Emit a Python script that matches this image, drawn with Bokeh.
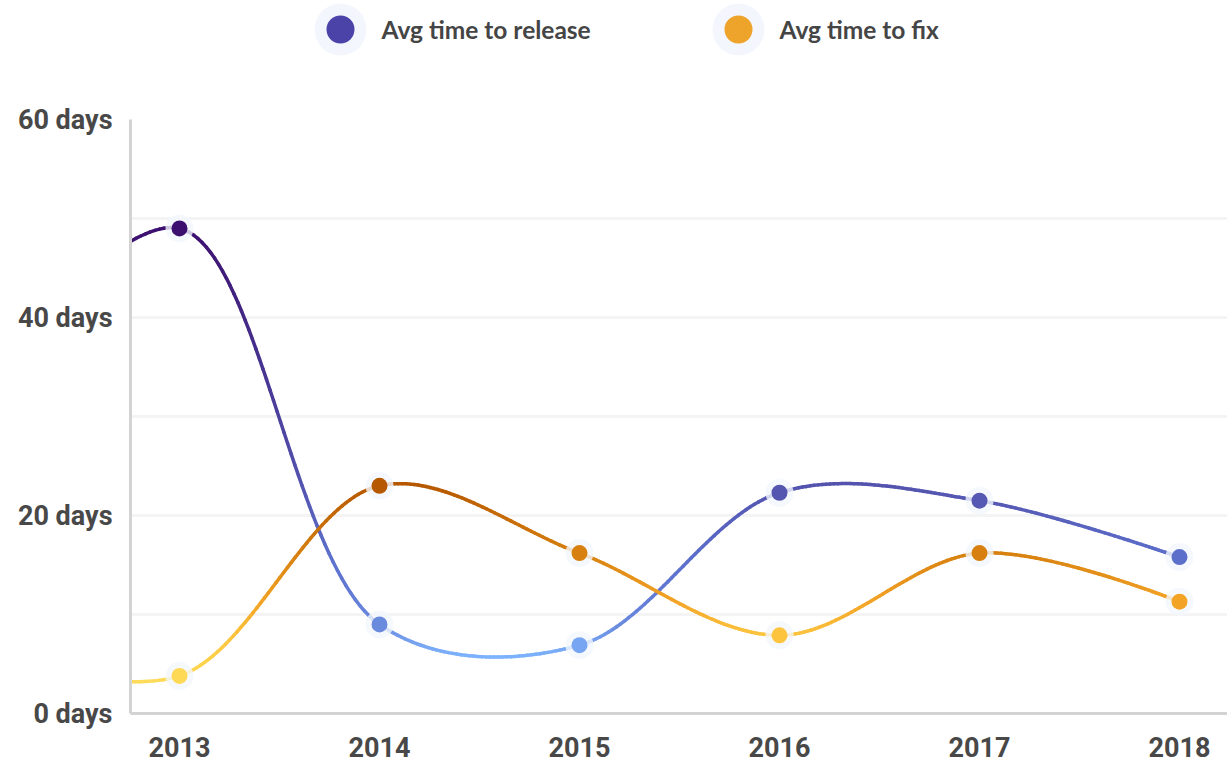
import math
from bokeh.plotting import figure
from bokeh.layouts import column
from bokeh.models import Range1d, FixedTicker
from bokeh.core.properties import value
from bokeh.embed import file_html
from bokeh.resources import INLINE

# ---------------- data ----------------
years = [2012, 2013, 2014, 2015, 2016, 2017, 2018]
tick_years = [2013, 2014, 2015, 2016, 2017, 2018]
release_days = [34.0, 49.0, 9.0, 6.9, 22.3, 21.5, 15.8]
fix_days = [6.0, 3.8, 23.0, 16.2, 7.9, 16.2, 11.3]
y_ticks = [0, 20, 40, 60]
y_tick_labels = ["0 days", "20 days", "40 days", "60 days"]
grid_ticks = [10, 20, 30, 40, 50]
series_names = ["Avg time to release", "Avg time to fix"]
legend_colors = ["#4c43a8", "#eea42b"]

release_stops = [(5.5, "#7db5ff"), (7.0, "#77a4f1"), (9.0, "#6a8ade"), (13.0, "#6077d2"),
                 (16.0, "#5c6fcb"), (22.0, "#5557b1"), (30.0, "#4c409d"), (40.0, "#432784"),
                 (49.5, "#3d0f6e")]
fix_stops = [(3.0, "#fedc5c"), (5.0, "#fdd44e"), (8.0, "#fcc33e"), (11.3, "#f3a427"),
             (16.2, "#d7800f"), (23.0, "#b65800")]

# ---------------- helpers ----------------
XPX = 200.0   # px per year (approx, for spline shape)
YPX = 9.9     # px per day


def hex2rgb(h):
    h = h.lstrip("#")
    return tuple(int(h[i:i + 2], 16) for i in (0, 2, 4))


def interp_color(v, stops):
    if v <= stops[0][0]:
        return stops[0][1]
    if v >= stops[-1][0]:
        return stops[-1][1]
    for (v0, c0), (v1, c1) in zip(stops[:-1], stops[1:]):
        if v0 <= v <= v1:
            t = (v - v0) / (v1 - v0)
            a, b = hex2rgb(c0), hex2rgb(c1)
            r = [round(a[k] + (b[k] - a[k]) * t) for k in range(3)]
            return "#%02x%02x%02x" % tuple(r)
    return stops[-1][1]


def catmull_rom(xs, ys, n=50):
    pts = [((x - years[0]) * XPX, y * YPX) for x, y in zip(xs, ys)]
    N = len(pts)
    ox, oy = [], []
    eps = 1e-9
    for i in range(N - 1):
        p0 = pts[i - 1] if i > 0 else pts[i]
        p1 = pts[i]
        p2 = pts[i + 1]
        p3 = pts[i + 2] if i + 2 < N else pts[i + 1]
        d01 = math.dist(p0, p1)
        d12 = math.dist(p1, p2)
        d23 = math.dist(p2, p3)
        l01a, l12a, l23a = d01 ** 0.5, d12 ** 0.5, d23 ** 0.5
        c1 = p1
        if l01a > eps:
            a = 2 * d01 + 3 * l01a * l12a + d12
            nn = 3 * l01a * (l01a + l12a)
            c1 = ((p1[0] * a - p0[0] * d12 + p2[0] * d01) / nn,
                  (p1[1] * a - p0[1] * d12 + p2[1] * d01) / nn)
        c2 = p2
        if l23a > eps:
            b = 2 * d23 + 3 * l23a * l12a + d12
            m = 3 * l23a * (l23a + l12a)
            c2 = ((p2[0] * b + p1[0] * d23 - p3[0] * d12) / m,
                  (p2[1] * b + p1[1] * d23 - p3[1] * d12) / m)
        for k in range(n + (1 if i == N - 2 else 0)):
            t = k / n
            u = 1 - t
            bx = u ** 3 * p1[0] + 3 * u * u * t * c1[0] + 3 * u * t * t * c2[0] + t ** 3 * p2[0]
            by = u ** 3 * p1[1] + 3 * u * u * t * c1[1] + 3 * u * t * t * c2[1] + t ** 3 * p2[1]
            ox.append(bx / XPX + years[0])
            oy.append(by / YPX)
    return ox, oy


W = 1227
LEFT = 130

# ---------------- legend strip ----------------
LH = 88
leg = figure(width=W, height=LH, x_range=Range1d(LEFT, W), y_range=Range1d(0, LH),
             toolbar_location=None, output_backend="svg",
             min_border_left=LEFT, min_border_right=0, min_border_top=0, min_border_bottom=0)
leg.axis.visible = False
leg.grid.visible = False
leg.outline_line_color = None
leg_x = [340, 738]
leg.scatter(leg_x, [59, 59], size=52, fill_color="#f3f6fd", line_color=None)
leg.scatter(leg_x, [59, 59], size=28, fill_color=legend_colors, line_color=None)
leg.text([x + 41 for x in leg_x], [59, 59], text=series_names, text_font=value("Lato"),
         text_font_style="bold", text_font_size="24.5px", text_color="#454545",
         text_baseline="middle", text_align="left")

# ---------------- main chart ----------------
x_start = 2013 - 49.0 / XPX
x_end = x_start + (W - LEFT) / XPX
p = figure(width=W, height=768 - LH, x_range=Range1d(x_start, x_end), y_range=Range1d(0, 60),
           toolbar_location=None, output_backend="svg",
           min_border_left=LEFT, min_border_right=0, min_border_top=31, min_border_bottom=55)
p.outline_line_color = None
p.xgrid.visible = False
p.ygrid.ticker = FixedTicker(ticks=grid_ticks)
p.ygrid.grid_line_color = "#f4f4f4"
p.ygrid.grid_line_width = 3

for ax in (p.xaxis[0], p.yaxis[0]):
    ax.axis_line_color = "#d3d3d3"
    ax.axis_line_width = 3
    ax.major_tick_line_color = None
    ax.minor_tick_line_color = None
    ax.major_tick_out = 0
    ax.major_tick_in = 0
    ax.major_label_text_font = "Roboto"
    ax.major_label_text_font_style = "bold"
    ax.major_label_text_font_size = "27px"
    ax.major_label_text_color = "#484848"

p.yaxis[0].ticker = FixedTicker(ticks=y_ticks)
p.yaxis[0].major_label_overrides = {t: s for t, s in zip(y_ticks, y_tick_labels)}
p.yaxis[0].major_label_standoff = 18
p.xaxis[0].ticker = FixedTicker(ticks=tick_years)
p.xaxis[0].major_label_overrides = {t: str(t) for t in tick_years}
p.xaxis[0].major_label_standoff = 23

for vals, stops in ((release_days, release_stops), (fix_days, fix_stops)):
    cx, cy = catmull_rom(years, vals)
    x0, y0, x1, y1, cols = [], [], [], [], []
    for i in range(len(cx) - 1):
        x0.append(cx[i]); y0.append(cy[i]); x1.append(cx[i + 1]); y1.append(cy[i + 1])
        cols.append(interp_color((cy[i] + cy[i + 1]) / 2, stops))
    p.segment(x0, y0, x1, y1, line_color=cols, line_width=3.5, line_cap="round")

for vals, stops in ((release_days, release_stops), (fix_days, fix_stops)):
    p.scatter(years, vals, size=28, fill_color="#f3f7fd", fill_alpha=0.8, line_color=None)
    p.scatter(years, vals, size=16, fill_color=[interp_color(v, stops) for v in vals],
              line_color=None)

layout = column(leg, p, spacing=0)
open("out.html", "w").write(file_html(layout, INLINE))
